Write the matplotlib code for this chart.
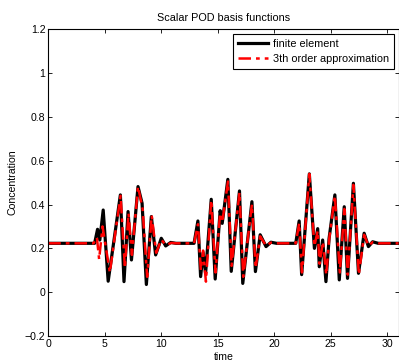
import matplotlib
matplotlib.use("Agg")
import matplotlib.pyplot as plt

# Finite element solution: turning points of the concentration trace
fe_time = [0.0, 4.1, 4.36, 4.56, 4.86, 5.3, 5.85, 6.38, 6.7, 7.06, 7.36, 7.94, 8.3, 8.68,
           9.12, 9.5, 10.0, 10.39, 10.83, 11.3,
           12.9, 13.24, 13.48, 13.7, 13.92, 14.42, 14.77, 15.21, 15.39, 15.89, 16.19,
           16.92, 17.21, 18.02, 18.33, 18.75, 19.27, 19.7, 20.2,
           21.9, 22.2, 22.42, 23.1, 23.55, 23.84, 23.98, 24.28, 24.57, 24.85, 25.36,
           25.75, 26.19, 26.48, 27.0, 27.45, 27.95, 28.33, 28.7, 29.2, 31.0]
fe_value = [0.223, 0.223, 0.287, 0.238, 0.375, 0.050, 0.250, 0.444, 0.048, 0.368, 0.147,
            0.482, 0.406, 0.035, 0.345, 0.170, 0.246, 0.211, 0.227, 0.223,
            0.223, 0.325, 0.071, 0.180, 0.086, 0.424, 0.060, 0.372, 0.314, 0.515, 0.095,
            0.462, 0.040, 0.413, 0.094, 0.262, 0.208, 0.228, 0.223,
            0.223, 0.325, 0.080, 0.540, 0.200, 0.290, 0.116, 0.238, 0.048, 0.246, 0.444,
            0.056, 0.390, 0.063, 0.497, 0.086, 0.269, 0.208, 0.230, 0.223, 0.223]

# Third order reduced model: turning points of the approximation
ro_time = [0.0, 4.0, 4.3, 4.5, 4.8, 5.45, 5.9, 6.4, 6.78, 7.1, 7.4, 7.94, 8.35, 8.75,
           9.15, 9.55, 10.0, 10.4, 10.9, 11.3,
           12.9, 13.25, 13.5, 13.7, 13.95, 14.42, 14.8, 15.2, 15.4, 15.9, 16.22,
           16.92, 17.25, 18.02, 18.35, 18.75, 19.27, 19.7, 20.2,
           21.9, 22.2, 22.45, 23.1, 23.55, 23.84, 24.0, 24.3, 24.6, 24.85, 25.36,
           25.8, 26.2, 26.5, 27.0, 27.48, 27.95, 28.33, 28.7, 29.2, 31.0]
ro_value = [0.223, 0.223, 0.250, 0.150, 0.300, 0.090, 0.260, 0.440, 0.110, 0.360, 0.170,
            0.482, 0.380, 0.070, 0.350, 0.180, 0.240, 0.215, 0.225, 0.223,
            0.223, 0.310, 0.100, 0.190, 0.048, 0.420, 0.090, 0.360, 0.320, 0.505, 0.120,
            0.455, 0.070, 0.400, 0.110, 0.255, 0.212, 0.226, 0.223,
            0.223, 0.315, 0.090, 0.540, 0.210, 0.280, 0.130, 0.230, 0.080, 0.240, 0.440,
            0.090, 0.380, 0.080, 0.490, 0.080, 0.262, 0.212, 0.228, 0.223, 0.223]

x_ticks = [0, 5, 10, 15, 20, 25, 30]
y_ticks = [-0.2, 0, 0.2, 0.4, 0.6, 0.8, 1.0, 1.2]
y_tick_labels = ["\u22120.2", "0", "0.2", "0.4", "0.6", "0.8", "1", "1.2"]

plt.rcParams["font.family"] = ["Liberation Sans", "DejaVu Sans"]

fig = plt.figure(figsize=(3.99, 3.64), dpi=100)
ax = fig.add_axes([0.121, 0.077, 0.878, 0.8425])

ax.plot(fe_time, fe_value, color="black", lw=2.3, solid_joinstyle="round",
        label="finite element")
ax.plot(ro_time, ro_value, color="red", lw=1.8, linestyle=(0, (5, 2, 1.5, 2)),
        label="3th order approximation")

ax.set_xlim(0, 31)
ax.set_ylim(-0.2, 1.2)
ax.set_xticks(x_ticks)
ax.set_yticks(y_ticks)
ax.set_yticklabels(y_tick_labels)
ax.tick_params(direction="in", length=3, width=0.6, labelsize=7.6, top=True, right=True,
               pad=2)
for s in ax.spines.values():
    s.set_linewidth(0.8)

ax.set_title("Scalar POD basis functions", fontsize=7.8, pad=6)
ax.set_xlabel("time", fontsize=7.6, labelpad=2.5)
ax.set_ylabel("Concentration", fontsize=7.6, labelpad=5)

leg = ax.legend(loc="upper right", fontsize=7.8, frameon=True, fancybox=False,
                edgecolor="black", framealpha=1, handlelength=2.8, handletextpad=0.45,
                borderpad=0.45, labelspacing=0.5, borderaxespad=0.4)
leg.get_frame().set_linewidth(0.8)

fig.savefig("out.png", dpi=100)
